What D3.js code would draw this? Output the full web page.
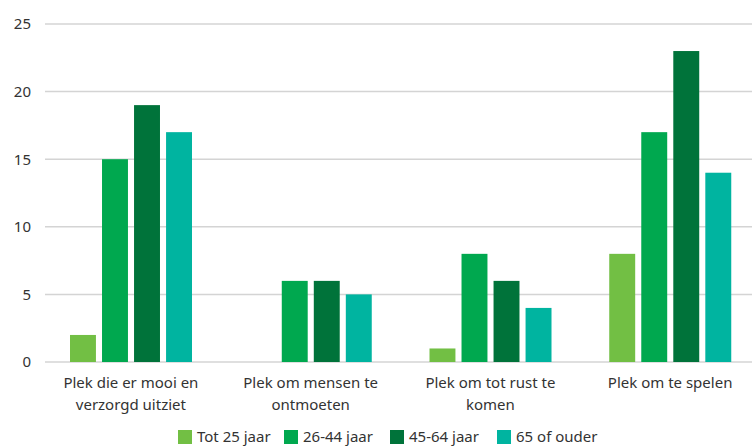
<!DOCTYPE html>
<html><head><meta charset="utf-8">
<script src="https://cdn.jsdelivr.net/npm/d3@7"></script>
<style>body{margin:0;background:#fff}svg{display:block}text{font-family:"Noto Sans",sans-serif;fill:#333}</style>
</head><body><svg id="c" width="752" height="448"></svg>
<script>
const categories = [["Plek die er mooi en","verzorgd uitziet"],["Plek om mensen te","ontmoeten"],["Plek om tot rust te","komen"],["Plek om te spelen"]];
const series = ["Tot 25 jaar","26-44 jaar","45-64 jaar","65 of ouder"];
const colors = ["#72bf44","#00a84f","#00733a","#00b4a0"];
const values = [
  [2,0,1,8],
  [15,6,8,17],
  [19,6,6,23],
  [17,5,4,14]
];
const yTicks = [0,5,10,15,20,25];

const svg = d3.select("#c");
const x = d3.scaleBand().domain(d3.range(categories.length)).range([41,760]);
const xi = d3.scaleBand().domain(d3.range(series.length)).range([29, 151]).paddingInner(0.19);
const y = d3.scaleLinear().domain([0,25]).range([362,24]);

const yAxis = d3.axisLeft(y).tickValues(yTicks).tickSize(0).tickPadding(0);
const gy = svg.append("g").attr("transform","translate(31,0)").call(yAxis);
gy.select(".domain").remove();
gy.selectAll("text").style("font-size","15px").attr("fill","#333");

svg.append("g").selectAll("line").data(yTicks).join("line")
  .attr("x1",45).attr("x2",752).attr("y1",d=>y(d)).attr("y2",d=>y(d))
  .attr("stroke","#d4d4d4").attr("stroke-width",1.5);

const g = svg.append("g").selectAll("g").data(categories).join("g")
  .attr("transform",(d,i)=>`translate(${x(i)},0)`);
g.selectAll("rect").data((d,i)=>series.map((s,j)=>({j,v:values[j][i]}))).join("rect")
  .attr("x",d=>xi(d.j)).attr("width",xi.bandwidth())
  .attr("y",d=>y(d.v)).attr("height",d=>y(0)-y(d.v))
  .attr("fill",d=>colors[d.j]);

const xAxis = d3.axisBottom(x).tickSize(0).tickFormat(()=> "");
const gx = svg.append("g").attr("transform","translate(0,362)").call(xAxis);
gx.select(".domain").remove();
gx.selectAll(".tick").each(function(d){
  const t = d3.select(this).append("text").attr("text-anchor","middle").style("font-size","15px").attr("fill","#333");
  categories[d].forEach((line,k)=>t.append("tspan").attr("x",0).attr("y",26+k*22).text(line));
});

const legendX = [178,284,390,497];
const lg = svg.append("g").selectAll("g").data(series).join("g")
  .attr("transform",(d,i)=>`translate(${legendX[i]},430)`);
lg.append("rect").attr("width",14).attr("height",14).attr("fill",(d,i)=>colors[i]);
lg.append("text").attr("x",19).attr("y",12).style("font-size","15px").text(d=>d);
</script></body></html>
